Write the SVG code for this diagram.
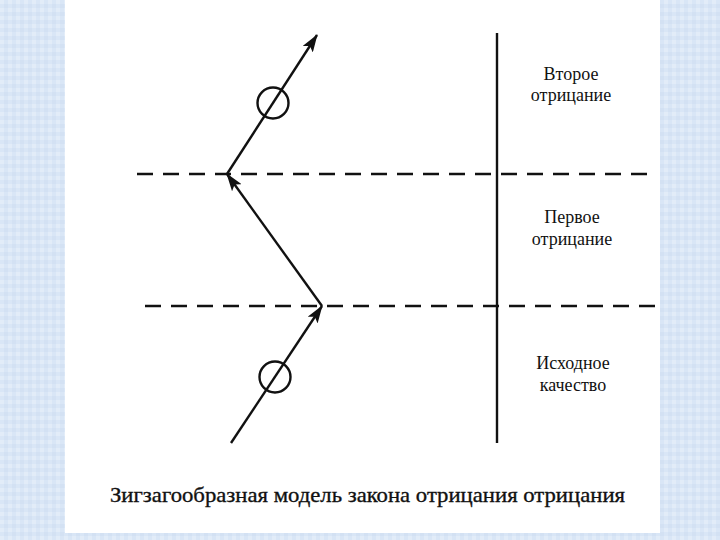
<svg xmlns="http://www.w3.org/2000/svg" width="720" height="540" viewBox="0 0 720 540">
<defs>
<style>
.dash{stroke:#111;stroke-width:2.4;stroke-dasharray:16 10;fill:none}
.ln{stroke:#111;stroke-width:2.4;fill:none}
.circ{stroke:#111;stroke-width:2.4;fill:none}
.lbl{font-size:18px;fill:#111;text-anchor:middle}
.title{font-size:22px;fill:#111;stroke:#111;stroke-width:0.35}
</style>
<marker id="arr" viewBox="0 0 18 12" refX="17" refY="6" markerWidth="18" markerHeight="12" markerUnits="userSpaceOnUse" orient="auto">
<path d="M0,0 L18,6 L0,12 L4,6 Z" fill="#111"/>
</marker>
<pattern id="bg" width="8" height="8" patternUnits="userSpaceOnUse">
<rect width="8" height="8" fill="#d9e6f6"/>
<rect width="4" height="4" fill="#e2ecf8"/>
<rect x="4" y="4" width="4" height="4" fill="#d3e1f3"/>
</pattern>
</defs>
<rect width="720" height="540" fill="url(#bg)"/>
<rect x="65" y="0" width="595" height="533" fill="#ffffff"/>
<g id="connectors">
<line class="dash" x1="137" y1="174" x2="656" y2="174"/>
<line class="dash" x1="145" y1="306" x2="658" y2="306"/>
<line class="ln" x1="497" y1="33" x2="497" y2="443" stroke-width="3"/>
<line class="ln" x1="231" y1="443" x2="322" y2="306" marker-end="url(#arr)"/>
<line class="ln" x1="322" y1="306" x2="227" y2="174" marker-end="url(#arr)"/>
<line class="ln" x1="227" y1="174" x2="317" y2="35" marker-end="url(#arr)"/>
</g>
<g id="circle-top"><circle class="circ" cx="273" cy="103" r="15.5"/></g>
<g id="circle-bottom"><circle class="circ" cx="275" cy="377" r="15.5"/></g>
<g font-family="'Liberation Serif', 'Times New Roman', 'DejaVu Serif', serif">
<g id="label-second"><text class="lbl" x="571" y="80">Второе</text><text class="lbl" x="571" y="101">отрицание</text></g>
<g id="label-first"><text class="lbl" x="572" y="223">Первое</text><text class="lbl" x="572" y="245">отрицание</text></g>
<g id="label-initial"><text class="lbl" x="573" y="369">Исходное</text><text class="lbl" x="573" y="391">качество</text></g>
<g id="title"><text class="title" x="110" y="502" textLength="515" lengthAdjust="spacingAndGlyphs">Зигзагообразная модель закона отрицания  отрицания</text></g>
</g>
</svg>
